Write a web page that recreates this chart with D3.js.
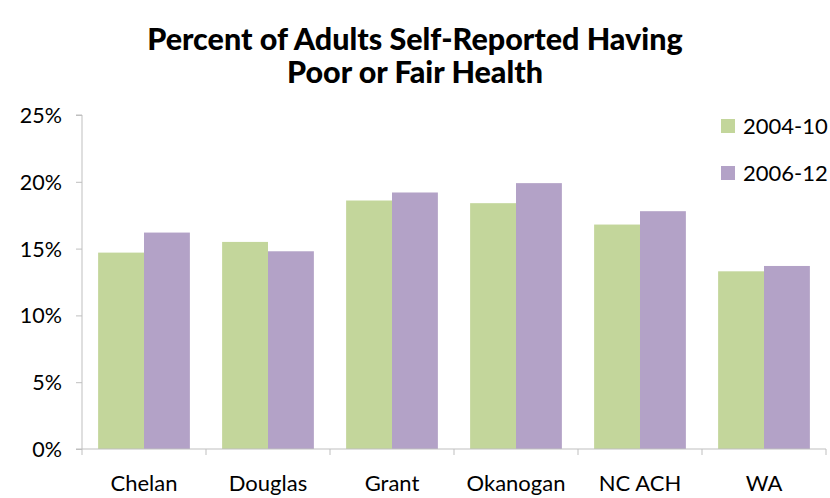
<!DOCTYPE html>
<html><head><meta charset="utf-8">
<script src="https://cdn.jsdelivr.net/npm/d3@7"></script>
<style>body{margin:0;background:#fff}svg{display:block}</style>
</head><body>
<svg id="c" width="830" height="498"></svg>
<script>
const categories = ["Chelan","Douglas","Grant","Okanogan","NC ACH","WA"];
const seriesNames = ["2004-10","2006-12"];
const values2004 = [14.7, 15.5, 18.6, 18.4, 16.8, 13.3];
const values2006 = [16.2, 14.8, 19.2, 19.9, 17.8, 13.7];
const yTicks = [0,5,10,15,20,25];
const colors = ["#c3d69b","#b3a2c7"];
const titleLines = ["Percent of Adults Self-Reported Having","Poor or Fair Health"];

const svg = d3.select("#c");
const font = "Lato, 'Open Sans', sans-serif";
const m = {left:82, right:826, top:115, bottom:449};

const x = d3.scaleBand().domain(categories).range([m.left, m.right]).paddingInner(0.26).paddingOuter(0.13);
const xs = d3.scaleBand().domain(seriesNames).range([0, x.bandwidth()]);
const y = d3.scaleLinear().domain([0,25]).range([m.bottom, m.top]);

// title
svg.selectAll("text.title").data(titleLines).enter().append("text")
  .attr("x",415).attr("y",(d,i)=>50+i*33).attr("text-anchor","middle")
  .attr("font-family",font).attr("font-weight","900").attr("font-size",30.5).attr("fill","#000")
  .text(d=>d);

// y axis
const yAxis = d3.axisLeft(y).tickValues(yTicks).tickFormat(d=>d+"%").tickSize(6).tickPadding(14);
const gy = svg.append("g").attr("transform",`translate(${m.left},0)`).call(yAxis);
gy.select(".domain").attr("stroke","#bfbfbf").attr("d",`M-6,${m.top}H0V${m.bottom}H-6`);
gy.selectAll(".tick line").attr("stroke","#bfbfbf");
gy.selectAll(".tick text").attr("font-family",font).attr("font-size",21.5).attr("fill","#000").attr("dy","0.35em");

// bars
const data = [values2004, values2006];
const g = svg.append("g");
seriesNames.forEach((s,si)=>{
  g.selectAll(".b"+si).data(categories).enter().append("rect")
    .attr("x",c=>x(c)+xs(s)).attr("width",xs.bandwidth())
    .attr("y",(c,i)=>y(data[si][i])).attr("height",(c,i)=>y(0)-y(data[si][i]))
    .attr("fill",colors[si]);
});

// x axis
const gx = svg.append("g").attr("transform",`translate(0,${m.bottom})`);
gx.append("line").attr("x1",m.left).attr("x2",m.right).attr("stroke","#bfbfbf");
const bounds = d3.range(categories.length+1).map(i=>m.left + i*(m.right-m.left)/categories.length);
gx.selectAll("line.t").data(bounds).enter().append("line")
  .attr("x1",d=>d).attr("x2",d=>d).attr("y1",0).attr("y2",6).attr("stroke","#bfbfbf");
gx.selectAll("text").data(categories).enter().append("text")
  .attr("x",c=>x(c)+x.bandwidth()/2).attr("y",42).attr("text-anchor","middle")
  .attr("font-family",font).attr("font-size",22).attr("fill","#000").text(d=>d);

// legend
const lg = svg.append("g");
seriesNames.forEach((s,i)=>{
  lg.append("rect").attr("x",721).attr("y",119+i*47).attr("width",14).attr("height",14).attr("fill",colors[i]);
  lg.append("text").attr("x",743).attr("y",134+i*47).attr("font-family",font).attr("font-size",22).attr("fill","#000").text(s);
});
</script>
</body></html>
